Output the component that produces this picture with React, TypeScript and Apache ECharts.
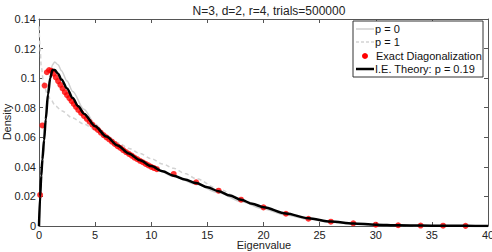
import React, { useEffect, useRef } from "react";
import * as echarts from "echarts";

const titleText = "N=3, d=2, r=4, trials=500000";
const xAxisName = "Eigenvalue";
const yAxisName = "Density";
const xTicks = [0, 5, 10, 15, 20, 25, 30, 35, 40];
const yTicks = [0, 0.02, 0.04, 0.06, 0.08, 0.1, 0.12, 0.14];

// I.E. Theory p = 0.19 (black)
const theoryX = [0, 0.1, 0.2, 0.3, 0.45, 0.6, 0.8, 1.0, 1.2, 1.4, 1.7, 2.0, 2.5, 3, 3.5, 4, 5, 6, 7, 8, 9, 10, 11, 12, 13, 14, 15, 16, 17, 18, 19, 20, 22, 24, 26, 28, 30, 32, 34, 36, 38, 40];
const theoryY = [0, 0.02, 0.034, 0.045, 0.058, 0.072, 0.089, 0.1, 0.1055, 0.1055, 0.103, 0.099, 0.093, 0.0865, 0.081, 0.076, 0.0675, 0.0605, 0.0545, 0.049, 0.0445, 0.0405, 0.037, 0.034, 0.0315, 0.029, 0.0262, 0.0235, 0.0207, 0.0178, 0.015, 0.0127, 0.0085, 0.0052, 0.003, 0.0017, 0.0009, 0.0005, 0.0003, 0.0002, 0.0001, 0];

// p = 0 (light gray solid)
const p0X = [0, 0.1, 0.3, 0.6, 0.9, 1.2, 1.4, 1.7, 2, 2.5, 3, 4, 5, 6, 8, 10, 12, 14, 16, 18, 20, 22, 24, 26, 28, 30, 34, 38, 40];
const p0Y = [0, 0.015, 0.04, 0.07, 0.097, 0.109, 0.111, 0.109, 0.105, 0.098, 0.091, 0.079, 0.069, 0.061, 0.049, 0.0405, 0.0335, 0.0282, 0.0225, 0.0165, 0.0115, 0.0075, 0.0045, 0.0026, 0.0014, 0.0007, 0.0002, 0.0001, 0];

// p = 1 (light gray dashed)
const p1X = [0, 0.1, 0.2, 0.4, 0.7, 1, 1.5, 2, 3, 4, 5, 6, 7, 8, 9, 10, 11, 12, 13, 14, 16, 18, 20, 22, 24, 26, 28, 30, 34, 38, 40];
const p1Y = [0.135, 0.12, 0.108, 0.097, 0.09, 0.086, 0.081, 0.078, 0.073, 0.069, 0.065, 0.0605, 0.0565, 0.0525, 0.049, 0.0455, 0.042, 0.039, 0.0355, 0.032, 0.025, 0.018, 0.0122, 0.0078, 0.0046, 0.0026, 0.0014, 0.0007, 0.0002, 0.0001, 0];

// Exact Diagonalization (red dots)
const edX = [0.1, 0.3, 0.5, 0.7, 0.9, 1.1, 1.3, 1.5, 1.7, 1.9, 2.1, 2.3, 2.5, 2.7, 2.9, 3.1, 3.3, 3.5, 3.75, 4.0, 4.25, 4.5, 4.75, 5.0, 5.25, 5.5, 5.75, 6.0, 6.25, 6.5, 6.75, 7.0, 7.25, 7.5, 7.75, 8.0, 8.25, 8.5, 8.75, 9.0, 9.25, 9.5, 9.75, 10.0, 10.25, 10.5, 12, 14, 16, 18, 20, 22, 24, 26, 28, 30, 32, 34, 36, 38];
const edY = [0.021, 0.068, 0.095, 0.104, 0.1055, 0.105, 0.103, 0.1005, 0.098, 0.0955, 0.093, 0.0905, 0.0885, 0.0865, 0.0845, 0.0825, 0.0805, 0.0785, 0.0765, 0.0745, 0.0725, 0.0705, 0.0685, 0.0665, 0.065, 0.0632, 0.0615, 0.06, 0.0585, 0.057, 0.0555, 0.054, 0.0528, 0.0513, 0.05, 0.0488, 0.0476, 0.0463, 0.0452, 0.0441, 0.0431, 0.042, 0.041, 0.04, 0.0392, 0.0384, 0.0352, 0.0296, 0.0239, 0.0178, 0.0126, 0.0083, 0.0049, 0.0029, 0.0018, 0.0009, 0.0005, 0.0003, 0.0002, 0.0001];

const legendLabels = ["p = 0", "p = 1", "Exact Diagonalization", "I.E. Theory: p = 0.19"];

const zip = (xs: number[], ys: number[]) => xs.map((x, i) => [x, ys[i]]);

const FONT = "Liberation Sans, Arial, Helvetica, sans-serif";
const AXIS_COLOR = "#555";

export default function App() {
  const ref = useRef<HTMLDivElement>(null);
  useEffect(() => {
    if (!ref.current) return;
    const chart = echarts.init(ref.current, undefined, { renderer: "svg" });
    const xMin = xTicks[0];
    const xMax = xTicks[xTicks.length - 1];
    const xInt = xTicks[1] - xTicks[0];
    const yMin = yTicks[0];
    const yMax = yTicks[yTicks.length - 1];
    const yInt = 0.02;
    const baseX = {
      type: "value" as const,
      min: xMin,
      max: xMax,
      interval: xInt,
      splitLine: { show: false },
      axisLine: { show: true, onZero: false, lineStyle: { color: AXIS_COLOR, width: 1 } },
      axisTick: { show: true, inside: true, length: 4, lineStyle: { color: AXIS_COLOR } },
    };
    const baseY = {
      type: "value" as const,
      min: yMin,
      max: yMax,
      interval: yInt,
      splitLine: { show: false },
      axisLine: { show: true, onZero: false, lineStyle: { color: AXIS_COLOR, width: 1 } },
      axisTick: { show: true, inside: true, length: 4, lineStyle: { color: AXIS_COLOR } },
    };
    const legendX = 353;
    const legendY = 21;
    const rowY = [29, 42, 56, 69];
    const legendGraphics: any[] = [
      {
        type: "text",
        x: 264,
        y: 245,
        style: { text: xAxisName, fill: "#222", font: `11px ${FONT}`, textAlign: "center", textVerticalAlign: "middle" },
      },
      {
        type: "text",
        x: 7,
        y: 122,
        rotation: Math.PI / 2,
        style: { text: yAxisName, fill: "#222", font: `11px ${FONT}`, textAlign: "center", textVerticalAlign: "middle" },
      },
      {
        type: "rect",
        shape: { x: legendX, y: legendY, width: 130, height: 56 },
        style: { fill: "#fff", stroke: "#333", lineWidth: 1 },
        z: 100,
      },
      {
        type: "line",
        shape: { x1: 356, y1: rowY[0], x2: 374, y2: rowY[0] },
        style: { stroke: "#cfcfcf", lineWidth: 1.5 },
        z: 101,
      },
      {
        type: "line",
        shape: { x1: 356, y1: rowY[1], x2: 374, y2: rowY[1] },
        style: { stroke: "#d3d3d3", lineWidth: 1.5, lineDash: [3, 2] },
        z: 101,
      },
      {
        type: "circle",
        shape: { cx: 365, cy: rowY[2], r: 3 },
        style: { fill: "#ff0000" },
        z: 101,
      },
      {
        type: "line",
        shape: { x1: 356, y1: rowY[3], x2: 374, y2: rowY[3] },
        style: { stroke: "#000", lineWidth: 2.5 },
        z: 101,
      },
      ...legendLabels.map((t, i) => ({
        type: "text",
        x: i === 2 ? 376 : 375,
        y: rowY[i],
        style: { text: t, fill: "#111", font: `11px ${FONT}`, textVerticalAlign: "middle" },
        z: 101,
      })),
    ];
    chart.setOption({
      animation: false,
      backgroundColor: "#fff",
      textStyle: { fontFamily: FONT },
      title: {
        text: titleText,
        left: 264,
        top: 0,
        textAlign: "center",
        textStyle: { fontSize: 12, fontWeight: "normal", color: "#222", fontFamily: FONT },
      },
      grid: { left: 39, right: 4, top: 19, bottom: 26, containLabel: false, outerBoundsMode: "none" },
      xAxis: [
        {
          ...baseX,
          position: "bottom",
          axisLabel: { show: true, fontSize: 11, color: "#222", margin: 3, fontFamily: FONT },
        },
        { ...baseX, position: "top", axisLabel: { show: false } },
      ],
      yAxis: [
        {
          ...baseY,
          position: "left",
          axisLabel: {
            show: true,
            fontSize: 11,
            color: "#222",
            margin: 3,
            fontFamily: FONT,
            formatter: (v: number) => (v === 0 ? "0" : String(Math.round(v * 100) / 100)),
          },
        },
        { ...baseY, position: "right", axisLabel: { show: false } },
      ],
      series: [
        {
          name: "p = 0",
          type: "line",
          data: zip(p0X, p0Y),
          showSymbol: false,
          smooth: 0.3,
          smoothMonotone: "x",
          lineStyle: { color: "#cfcfcf", width: 1.5 },
          z: 2,
        },
        {
          name: "p = 1",
          type: "line",
          data: zip(p1X, p1Y),
          showSymbol: false,
          smooth: 0.3,
          smoothMonotone: "x",
          lineStyle: { color: "#d3d3d3", width: 1.5, type: [4, 3] },
          z: 2,
        },
        {
          name: "Exact Diagonalization",
          type: "scatter",
          data: zip(edX, edY),
          symbol: "circle",
          symbolSize: 6,
          itemStyle: { color: "#ff0000" },
          z: 3,
        },
        {
          name: "I.E. Theory: p = 0.19",
          type: "line",
          data: zip(theoryX, theoryY),
          showSymbol: false,
          smooth: 0.3,
          smoothMonotone: "x",
          lineStyle: { color: "#000", width: 2.5 },
          z: 4,
        },
      ],
      graphic: legendGraphics,
    });
    return () => chart.dispose();
  }, []);
  return <div ref={ref} style={{ width: 492, height: 252, position: "absolute", left: 0, top: 0 }} />;
}
